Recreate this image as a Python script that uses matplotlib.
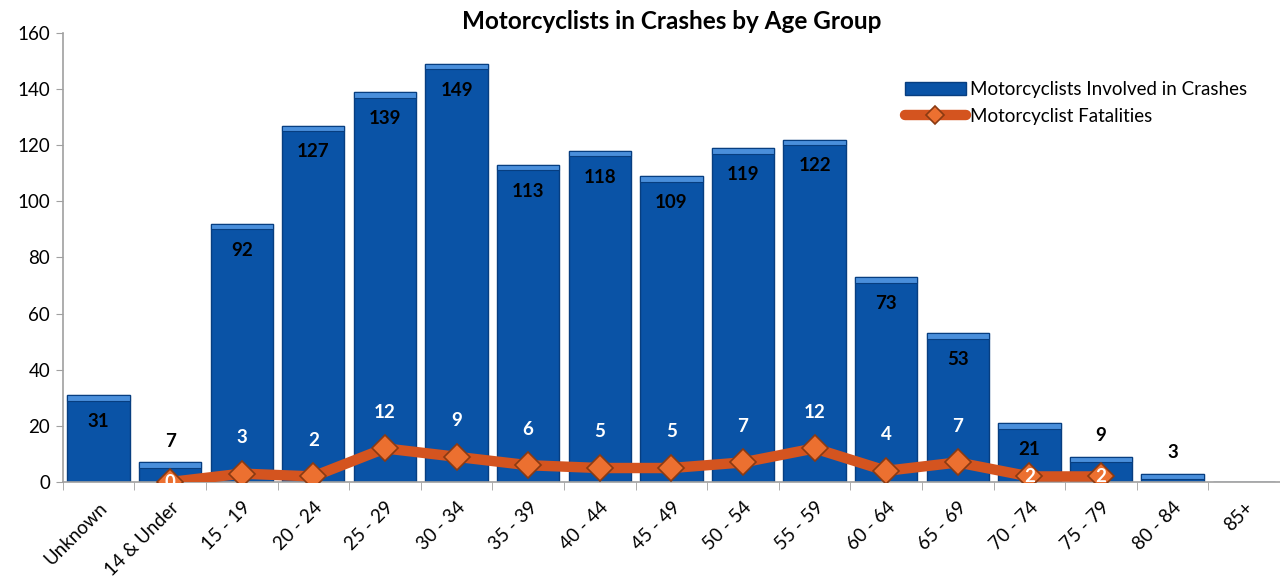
import numpy as np
import matplotlib.pyplot as plt

plt.rcParams['font.family'] = ['Lato', 'DejaVu Sans']

# données
age_groups = ["Unknown", "14 & Under", "15 - 19", "20 - 24", "25 - 29", "30 - 34",
              "35 - 39", "40 - 44", "45 - 49", "50 - 54", "55 - 59", "60 - 64",
              "65 - 69", "70 - 74", "75 - 79", "80 - 84", "85+"]
crashes = [31, 7, 92, 127, 139, 149, 113, 118, 109, 119, 122, 73, 53, 21, 9, 3, 0]
fatalities = [np.nan, 0, 3, 2, 12, 9, 6, 5, 5, 7, 12, 4, 7, 2, 2, np.nan, np.nan]

x = np.arange(len(age_groups))

fig = plt.figure(figsize=(12.8, 5.78), dpi=100)
ax = fig.add_axes([0.049, 0.166, 0.951, 0.777])

# barres avec un petit biseau clair en haut
bars = ax.bar(x, crashes, width=0.87, color='#0a53a6', edgecolor='#073e80',
              linewidth=1, label='Motorcyclists Involved in Crashes', zorder=2)
bevel = 2.0
tops = np.array(crashes, dtype=float)
mask = tops > 0
bh = np.minimum(bevel, tops[mask])
ax.bar(x[mask], bh, bottom=tops[mask] - bh, width=0.87, color='#4a8fdb',
       edgecolor='#073e80', linewidth=0.8, zorder=2.5)

# étiquettes des barres
for xi, v in zip(x, crashes):
    if v == 0:
        continue
    dy = -19 if v >= 20 else 15
    ax.annotate(str(v), (xi, v), xytext=(0, dy), textcoords='offset points',
                ha='center', va='center', fontsize=13.5, fontweight='bold', color='black', zorder=5)

# courbe des décès
ax.plot(x, fatalities, color='#d4541f', linewidth=7.5, solid_capstyle='round',
        marker='D', markersize=13, markerfacecolor='#ec7030', markeredgecolor='#8a3a12',
        markeredgewidth=1.2, label='Motorcyclist Fatalities', zorder=4)

centered = {"14 & Under", "70 - 74", "75 - 79"}
for xi, lab, f in zip(x, age_groups, fatalities):
    if np.isnan(f):
        continue
    dy = 0 if lab in centered else 26
    ax.annotate(str(int(f)), (xi, f), xytext=(0, dy), textcoords='offset points',
                ha='center', va='center', fontsize=13.5, fontweight='bold', color='white', zorder=6)

ax.set_xlim(-0.5, len(age_groups) - 0.5)
ax.set_ylim(0, 160)
ax.set_yticks(range(0, 161, 20))
ax.tick_params(axis='y', labelsize=13.5, length=5, color='#a0a0a0', pad=4)

ax.set_xticks(x)
ax.set_xticklabels(age_groups, rotation=45, ha='right', rotation_mode='anchor', fontsize=13.5)
ax.tick_params(axis='x', which='major', length=0, pad=12)
ax.set_xticks(np.arange(-0.5, len(age_groups)), minor=True)
ax.tick_params(axis='x', which='minor', length=6, color='#a0a0a0')

for s in ['top', 'right']:
    ax.spines[s].set_visible(False)
for s in ['left', 'bottom']:
    ax.spines[s].set_color('#a0a0a0')
    ax.spines[s].set_linewidth(1.2)

ax.set_title("Motorcyclists in Crashes by Age Group", fontsize=17.5, fontweight='bold', pad=1)

leg = ax.legend(handles=[bars, ax.lines[0]], loc='upper right', bbox_to_anchor=(0.987, 0.93),
                frameon=False, fontsize=13.5, handlelength=3.3, handletextpad=0.2,
                labelspacing=0.5, markerscale=0.7)

plt.savefig('out.png', dpi=100)
